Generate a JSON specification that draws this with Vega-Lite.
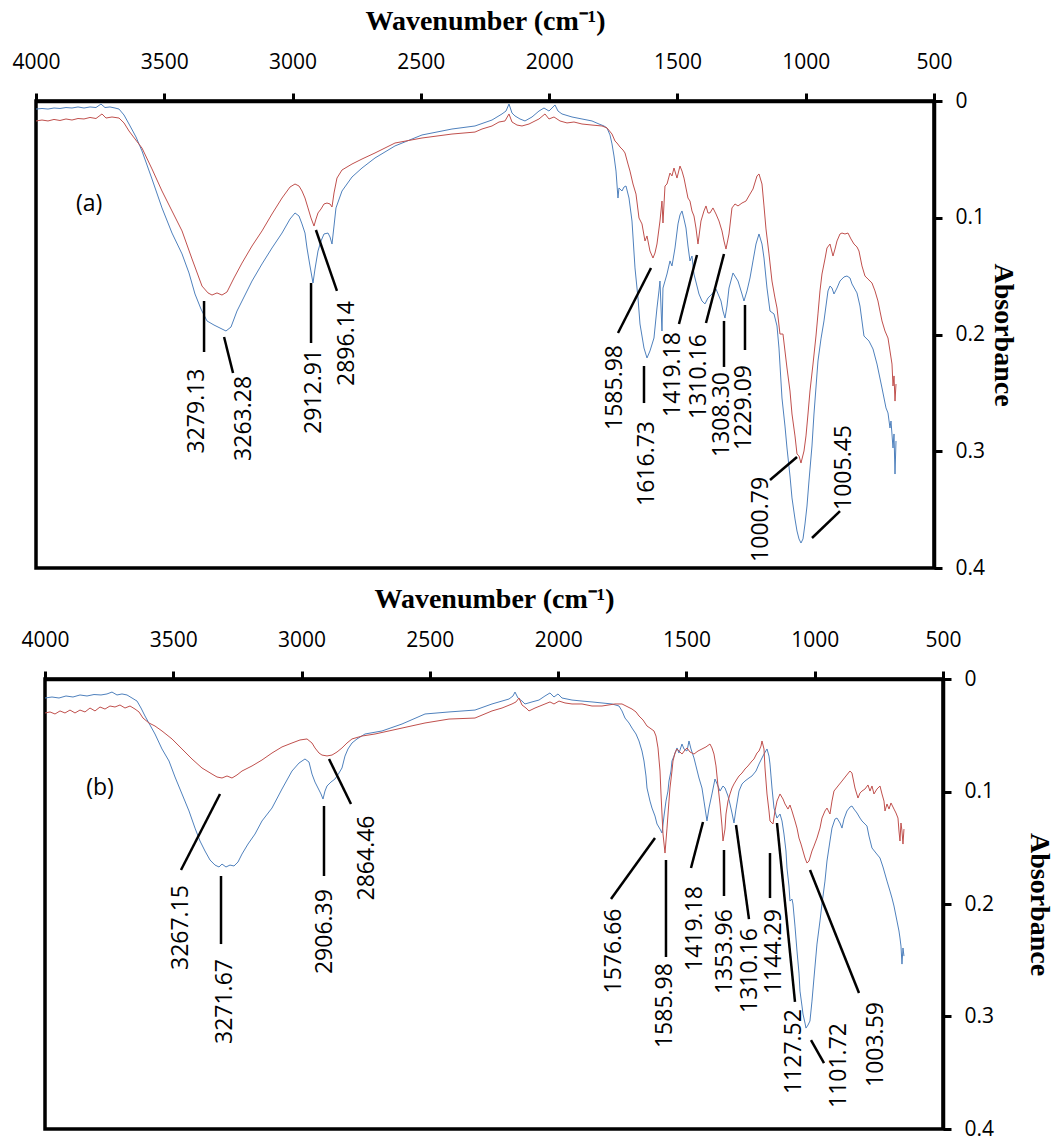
{
 "$schema": "https://vega.github.io/schema/vega-lite/v6.json",
 "background": "white",
 "padding": {"left": 10, "top": 5, "right": 5, "bottom": 5},
 "spacing": 3,
 "config": {
  "view": {"stroke": "black", "strokeWidth": 3.5},
  "axis": {"grid": false, "domainColor": "black", "domainWidth": 3.5, "tickColor": "black", "tickWidth": 3, "tickSize": 8,
   "labelFont": "Open Sans", "labelFontSize": 21, "labelColor": "black", "labelFlush": false,
   "titleFont": "Liberation Serif", "titleFontWeight": "bold", "titleFontSize": 28, "titleColor": "black"}
 },
 "datasets": {
  "aBlue": [{"w":4000,"a":0.0069},{"w":3976.6,"a":0.0064},{"w":3953.2,"a":0.0069},{"w":3929.8,"a":0.006},{"w":3906.5,"a":0.0064},{"w":3883.1,"a":0.0056},{"w":3859.7,"a":0.006},{"w":3836.3,"a":0.0051},{"w":3812.9,"a":0.006},{"w":3789.5,"a":0.0051},{"w":3766.2,"a":0.0056},{"w":3746.7,"a":0.0026},{"w":3731.1,"a":0.0056},{"w":3711.6,"a":0.0051},{"w":3692.1,"a":0.006},{"w":3676.5,"a":0.0069},{"w":3657,"a":0.012},{"w":3637.5,"a":0.0197},{"w":3610.3,"a":0.0308},{"w":3586.9,"a":0.0428},{"w":3547.9,"a":0.0668},{"w":3508.9,"a":0.0916},{"w":3469.9,"a":0.1131},{"w":3430.8,"a":0.131},{"w":3403.7,"a":0.1473},{"w":3380.3,"a":0.1653},{"w":3356.9,"a":0.1782},{"w":3333.5,"a":0.1884},{"w":3306.2,"a":0.1919},{"w":3275.1,"a":0.1953},{"w":3259.5,"a":0.197},{"w":3240,"a":0.1936},{"w":3216.6,"a":0.1799},{"w":3189.3,"a":0.1679},{"w":3158.1,"a":0.1542},{"w":3119.2,"a":0.1396},{"w":3080.2,"a":0.1259},{"w":3041.2,"a":0.1131},{"w":3010,"a":0.1011},{"w":2990.5,"a":0.0959},{"w":2975,"a":0.0985},{"w":2963.3,"a":0.1053},{"w":2951.6,"a":0.1131},{"w":2943.8,"a":0.1259},{"w":2932.1,"a":0.1413},{"w":2920.4,"a":0.1559},{"w":2912.6,"a":0.1439},{"w":2900.9,"a":0.1285},{"w":2889.2,"a":0.1199},{"w":2877.5,"a":0.1139},{"w":2861.9,"a":0.1131},{"w":2854.1,"a":0.1165},{"w":2846.3,"a":0.1225},{"w":2838.5,"a":0.1071},{"w":2830.8,"a":0.0916},{"w":2807.4,"a":0.0771},{"w":2768.4,"a":0.0651},{"w":2729.4,"a":0.0574},{"w":2678.7,"a":0.0488},{"w":2600.8,"a":0.0385},{"w":2495.6,"a":0.0291},{"w":2378.7,"a":0.024},{"w":2289,"a":0.0214},{"w":2222.7,"a":0.0163},{"w":2183.8,"a":0.0111},{"w":2168.2,"a":0.0086},{"w":2156.5,"a":0.0026},{"w":2144.8,"a":0.0103},{"w":2133.1,"a":0.0128},{"w":2113.6,"a":0.0154},{"w":2094.1,"a":0.0171},{"w":2066.8,"a":0.0137},{"w":2039.6,"a":0.0086},{"w":2020.1,"a":0.006},{"w":2000.6,"a":0.0086},{"w":1977.2,"a":0.0034},{"w":1965.5,"a":0.0086},{"w":1949.9,"a":0.0111},{"w":1910.9,"a":0.0137},{"w":1872,"a":0.0154},{"w":1833,"a":0.0171},{"w":1805.7,"a":0.0197},{"w":1786.2,"a":0.0214},{"w":1774.5,"a":0.0231},{"w":1762.8,"a":0.0291},{"w":1755,"a":0.0368},{"w":1747.2,"a":0.0471},{"w":1739.4,"a":0.06},{"w":1731.7,"a":0.0831},{"w":1727.8,"a":0.0745},{"w":1716.1,"a":0.0771},{"w":1708.3,"a":0.0737},{"w":1700.5,"a":0.0728},{"w":1688.8,"a":0.0831},{"w":1677.1,"a":0.1028},{"w":1665.4,"a":0.143},{"w":1653.7,"a":0.1687},{"w":1645.9,"a":0.191},{"w":1638.1,"a":0.2013},{"w":1630.3,"a":0.2116},{"w":1618.6,"a":0.2201},{"w":1607,"a":0.2141},{"w":1591.4,"a":0.203},{"w":1579.7,"a":0.1773},{"w":1571.9,"a":0.1627},{"w":1568,"a":0.1542},{"w":1560.2,"a":0.197},{"w":1556.3,"a":0.1602},{"w":1548.5,"a":0.1542},{"w":1540.7,"a":0.1482},{"w":1529,"a":0.137},{"w":1521.2,"a":0.1413},{"w":1509.5,"a":0.1259},{"w":1497.8,"a":0.1053},{"w":1490,"a":0.0976},{"w":1482.2,"a":0.0942},{"w":1474.4,"a":0.1011},{"w":1466.6,"a":0.1088},{"w":1458.9,"a":0.1242},{"w":1451.1,"a":0.137},{"w":1443.3,"a":0.1328},{"w":1435.5,"a":0.1482},{"w":1416,"a":0.1653},{"w":1404.3,"a":0.1713},{"w":1392.6,"a":0.1738},{"w":1380.9,"a":0.1687},{"w":1365.3,"a":0.1653},{"w":1349.7,"a":0.161},{"w":1330.2,"a":0.1713},{"w":1322.4,"a":0.1799},{"w":1314.6,"a":0.1859},{"w":1306.8,"a":0.1756},{"w":1299,"a":0.1602},{"w":1283.4,"a":0.1473},{"w":1263.9,"a":0.1542},{"w":1248.4,"a":0.1653},{"w":1240.6,"a":0.1713},{"w":1228.9,"a":0.1627},{"w":1217.2,"a":0.1516},{"w":1205.5,"a":0.137},{"w":1193.8,"a":0.1225},{"w":1182.1,"a":0.1139},{"w":1170.4,"a":0.1225},{"w":1162.6,"a":0.1345},{"w":1150.9,"a":0.1602},{"w":1139.2,"a":0.1799},{"w":1123.6,"a":0.1824},{"w":1111.9,"a":0.1927},{"w":1104.2,"a":0.2116},{"w":1092.5,"a":0.2544},{"w":1080.8,"a":0.2784},{"w":1073,"a":0.2972},{"w":1061.3,"a":0.3212},{"w":1053.5,"a":0.34},{"w":1041.8,"a":0.358},{"w":1034,"a":0.3683},{"w":1026.2,"a":0.3751},{"w":1018.4,"a":0.3786},{"w":1010.6,"a":0.3751},{"w":1002.8,"a":0.3623},{"w":995,"a":0.3469},{"w":987.3,"a":0.3255},{"w":975.6,"a":0.2955},{"w":967.8,"a":0.2681},{"w":952.2,"a":0.2227},{"w":940.5,"a":0.2038},{"w":928.8,"a":0.1884},{"w":913.2,"a":0.1627},{"w":905.4,"a":0.1585},{"w":897.6,"a":0.1602},{"w":889.8,"a":0.1653},{"w":878.1,"a":0.1602},{"w":866.4,"a":0.1542},{"w":850.8,"a":0.1507},{"w":839.2,"a":0.1499},{"w":827.5,"a":0.1516},{"w":819.7,"a":0.1567},{"w":800.2,"a":0.1644},{"w":788.5,"a":0.1756},{"w":772.9,"a":0.2013},{"w":753.4,"a":0.2056},{"w":737.8,"a":0.2124},{"w":722.2,"a":0.2253},{"w":702.7,"a":0.2458},{"w":687.1,"a":0.2629},{"w":679.3,"a":0.2672},{"w":671.5,"a":0.2801},{"w":667.6,"a":0.2741},{"w":659.8,"a":0.2972},{"w":655.9,"a":0.2852},{"w":652,"a":0.3195},{"w":648.1,"a":0.2912}],
  "aRed": [{"w":4000,"a":0.0171},{"w":3976.6,"a":0.0163},{"w":3953.2,"a":0.0171},{"w":3929.8,"a":0.0158},{"w":3906.5,"a":0.0167},{"w":3883.1,"a":0.0154},{"w":3859.7,"a":0.0163},{"w":3836.3,"a":0.015},{"w":3812.9,"a":0.0154},{"w":3789.5,"a":0.0141},{"w":3766.2,"a":0.015},{"w":3742.8,"a":0.0111},{"w":3727.2,"a":0.0146},{"w":3703.8,"a":0.0137},{"w":3676.5,"a":0.0146},{"w":3657,"a":0.0188},{"w":3637.5,"a":0.0257},{"w":3614.1,"a":0.0325},{"w":3586.9,"a":0.0403},{"w":3547.9,"a":0.0582},{"w":3508.9,"a":0.0771},{"w":3469.9,"a":0.0942},{"w":3430.8,"a":0.1113},{"w":3391.9,"a":0.1353},{"w":3353,"a":0.1585},{"w":3329.6,"a":0.1644},{"w":3314,"a":0.1662},{"w":3294.5,"a":0.1644},{"w":3275.1,"a":0.1662},{"w":3255.6,"a":0.1636},{"w":3228.3,"a":0.1516},{"w":3197.1,"a":0.1388},{"w":3158.1,"a":0.1242},{"w":3119.2,"a":0.1113},{"w":3080.2,"a":0.0968},{"w":3041.2,"a":0.0831},{"w":3010,"a":0.0737},{"w":2990.5,"a":0.0711},{"w":2975,"a":0.0728},{"w":2963.3,"a":0.0771},{"w":2951.6,"a":0.0831},{"w":2939.9,"a":0.0916},{"w":2928.2,"a":0.1002},{"w":2916.5,"a":0.1071},{"w":2908.7,"a":0.1011},{"w":2900.9,"a":0.0959},{"w":2889.2,"a":0.0925},{"w":2877.5,"a":0.0882},{"w":2865.8,"a":0.0874},{"w":2854.1,"a":0.0882},{"w":2846.3,"a":0.0908},{"w":2838.5,"a":0.0788},{"w":2826.9,"a":0.066},{"w":2807.4,"a":0.0591},{"w":2768.4,"a":0.054},{"w":2729.4,"a":0.0497},{"w":2678.7,"a":0.0445},{"w":2600.8,"a":0.036},{"w":2495.6,"a":0.0317},{"w":2378.7,"a":0.0283},{"w":2289,"a":0.0266},{"w":2261.7,"a":0.024},{"w":2222.7,"a":0.0214},{"w":2195.4,"a":0.018},{"w":2172,"a":0.0171},{"w":2156.5,"a":0.0111},{"w":2144.8,"a":0.018},{"w":2125.3,"a":0.0206},{"w":2105.8,"a":0.0214},{"w":2078.5,"a":0.0197},{"w":2055.1,"a":0.0171},{"w":2039.6,"a":0.0154},{"w":2016.2,"a":0.0111},{"w":2000.6,"a":0.0154},{"w":1981.1,"a":0.0137},{"w":1957.7,"a":0.0171},{"w":1930.4,"a":0.0188},{"w":1903.2,"a":0.018},{"w":1872,"a":0.0197},{"w":1833,"a":0.0206},{"w":1794,"a":0.0214},{"w":1774.5,"a":0.0231},{"w":1755,"a":0.0283},{"w":1743.3,"a":0.0343},{"w":1735.5,"a":0.036},{"w":1723.8,"a":0.0394},{"w":1712.1,"a":0.042},{"w":1704.4,"a":0.0445},{"w":1692.7,"a":0.054},{"w":1684.9,"a":0.06},{"w":1673.2,"a":0.0711},{"w":1661.5,"a":0.0797},{"w":1649.8,"a":0.1002},{"w":1638.1,"a":0.1053},{"w":1626.4,"a":0.1199},{"w":1618.6,"a":0.1156},{"w":1607,"a":0.1285},{"w":1595.3,"a":0.1345},{"w":1587.5,"a":0.1302},{"w":1579.7,"a":0.1225},{"w":1568,"a":0.1028},{"w":1560.2,"a":0.0857},{"w":1556.3,"a":0.1045},{"w":1548.5,"a":0.0728},{"w":1540.7,"a":0.0711},{"w":1529,"a":0.0617},{"w":1521.2,"a":0.0642},{"w":1513.4,"a":0.0574},{"w":1501.7,"a":0.066},{"w":1490,"a":0.0557},{"w":1482.2,"a":0.06},{"w":1474.4,"a":0.066},{"w":1458.9,"a":0.0831},{"w":1451.1,"a":0.0857},{"w":1443.3,"a":0.0942},{"w":1435.5,"a":0.0985},{"w":1427.7,"a":0.1088},{"w":1419.9,"a":0.1225},{"w":1408.2,"a":0.1028},{"w":1396.5,"a":0.0942},{"w":1388.7,"a":0.0899},{"w":1380.9,"a":0.0959},{"w":1373.2,"a":0.0959},{"w":1361.5,"a":0.0916},{"w":1349.7,"a":0.0968},{"w":1338,"a":0.1028},{"w":1326.3,"a":0.1113},{"w":1318.5,"a":0.1199},{"w":1310.7,"a":0.1268},{"w":1299,"a":0.1139},{"w":1287.4,"a":0.0916},{"w":1275.7,"a":0.0882},{"w":1263.9,"a":0.0899},{"w":1248.4,"a":0.0874},{"w":1232.8,"a":0.0857},{"w":1217.2,"a":0.0797},{"w":1205.5,"a":0.0754},{"w":1189.9,"a":0.0642},{"w":1182.1,"a":0.0625},{"w":1170.4,"a":0.0711},{"w":1162.6,"a":0.0899},{"w":1154.8,"a":0.1096},{"w":1143.1,"a":0.131},{"w":1131.5,"a":0.1542},{"w":1119.8,"a":0.1687},{"w":1111.9,"a":0.1773},{"w":1100.3,"a":0.1996},{"w":1088.6,"a":0.1996},{"w":1073,"a":0.2287},{"w":1061.3,"a":0.2484},{"w":1053.5,"a":0.2681},{"w":1041.8,"a":0.2869},{"w":1034,"a":0.3023},{"w":1026.2,"a":0.304},{"w":1018.4,"a":0.3101},{"w":1006.7,"a":0.2998},{"w":998.9,"a":0.2869},{"w":991.1,"a":0.2681},{"w":983.4,"a":0.2484},{"w":971.6,"a":0.2253},{"w":960,"a":0.2013},{"w":952.2,"a":0.1824},{"w":944.4,"a":0.1627},{"w":936.6,"a":0.1482},{"w":924.9,"a":0.1353},{"w":917.1,"a":0.1259},{"w":905.4,"a":0.1225},{"w":893.7,"a":0.1328},{"w":885.9,"a":0.1268},{"w":878.1,"a":0.1199},{"w":866.4,"a":0.1139},{"w":858.6,"a":0.1131},{"w":846.9,"a":0.1139},{"w":835.3,"a":0.1131},{"w":823.6,"a":0.1182},{"w":811.9,"a":0.1225},{"w":800.2,"a":0.125},{"w":792.4,"a":0.1285},{"w":780.7,"a":0.1413},{"w":769,"a":0.1499},{"w":757.3,"a":0.1525},{"w":741.7,"a":0.1559},{"w":730,"a":0.1627},{"w":718.4,"a":0.1713},{"w":710.6,"a":0.1799},{"w":702.7,"a":0.1884},{"w":691.1,"a":0.197},{"w":679.3,"a":0.203},{"w":671.5,"a":0.2141},{"w":663.7,"a":0.2253},{"w":659.8,"a":0.2441},{"w":655.9,"a":0.2355},{"w":652,"a":0.257},{"w":648.1,"a":0.2424}],
  "bBlue": [{"w":4000,"a":0.0169},{"w":3972.7,"a":0.016},{"w":3945.4,"a":0.0169},{"w":3918.2,"a":0.0151},{"w":3890.9,"a":0.016},{"w":3863.6,"a":0.0142},{"w":3836.3,"a":0.0151},{"w":3809,"a":0.0138},{"w":3781.7,"a":0.0142},{"w":3758.4,"a":0.0133},{"w":3738.9,"a":0.0116},{"w":3719.4,"a":0.0142},{"w":3699.9,"a":0.0133},{"w":3680.4,"a":0.0142},{"w":3660.9,"a":0.0169},{"w":3641.4,"a":0.0196},{"w":3625.8,"a":0.0258},{"w":3610.3,"a":0.0329},{"w":3590.8,"a":0.0409},{"w":3571.3,"a":0.0489},{"w":3544,"a":0.0622},{"w":3516.7,"a":0.0729},{"w":3493.3,"a":0.0871},{"w":3466,"a":0.1022},{"w":3438.8,"a":0.1173},{"w":3415.4,"a":0.1325},{"w":3395.9,"a":0.144},{"w":3376.4,"a":0.1529},{"w":3356.9,"a":0.1609},{"w":3337.4,"a":0.1654},{"w":3321.8,"a":0.1671},{"w":3310.1,"a":0.1645},{"w":3294.6,"a":0.1671},{"w":3279,"a":0.1654},{"w":3263.4,"a":0.1662},{"w":3247.8,"a":0.1627},{"w":3232.2,"a":0.1556},{"w":3208.8,"a":0.1467},{"w":3181.5,"a":0.1378},{"w":3154.3,"a":0.1262},{"w":3115.3,"a":0.1147},{"w":3076.3,"a":0.0978},{"w":3037.4,"a":0.0818},{"w":3010,"a":0.0747},{"w":2986.7,"a":0.0711},{"w":2971.1,"a":0.0738},{"w":2959.4,"a":0.0845},{"w":2947.7,"a":0.0916},{"w":2936,"a":0.0969},{"w":2924.3,"a":0.1022},{"w":2916.5,"a":0.1067},{"w":2908.7,"a":0.0996},{"w":2900.9,"a":0.0951},{"w":2885.4,"a":0.0916},{"w":2869.8,"a":0.0889},{"w":2854.2,"a":0.0836},{"w":2842.5,"a":0.0791},{"w":2830.8,"a":0.0685},{"w":2819.1,"a":0.0622},{"w":2803.5,"a":0.0569},{"w":2784,"a":0.0533},{"w":2752.8,"a":0.0489},{"w":2686.5,"a":0.0462},{"w":2608.6,"a":0.04},{"w":2518.9,"a":0.0311},{"w":2425.4,"a":0.0293},{"w":2324.1,"a":0.0276},{"w":2257.8,"a":0.0222},{"w":2218.8,"a":0.0196},{"w":2191.6,"a":0.0178},{"w":2176,"a":0.0151},{"w":2168.2,"a":0.0116},{"w":2156.5,"a":0.0169},{"w":2140.9,"a":0.0196},{"w":2129.2,"a":0.0222},{"w":2101.9,"a":0.0204},{"w":2074.7,"a":0.0187},{"w":2051.3,"a":0.0151},{"w":2031.8,"a":0.0124},{"w":2016.2,"a":0.016},{"w":2000.6,"a":0.0133},{"w":1985,"a":0.0169},{"w":1946,"a":0.0187},{"w":1907,"a":0.0196},{"w":1868.1,"a":0.0204},{"w":1829.1,"a":0.0213},{"w":1790.1,"a":0.0222},{"w":1762.8,"a":0.024},{"w":1751.1,"a":0.0284},{"w":1739.4,"a":0.0347},{"w":1723.8,"a":0.0391},{"w":1712.1,"a":0.0436},{"w":1696.5,"a":0.0489},{"w":1684.9,"a":0.0551},{"w":1673.2,"a":0.064},{"w":1665.4,"a":0.0729},{"w":1657.6,"a":0.0862},{"w":1653.7,"a":0.0969},{"w":1642,"a":0.1085},{"w":1634.2,"a":0.1147},{"w":1622.5,"a":0.1218},{"w":1614.7,"a":0.1289},{"w":1603,"a":0.1334},{"w":1595.2,"a":0.1369},{"w":1587.4,"a":0.1218},{"w":1579.7,"a":0.1085},{"w":1571.9,"a":0.0996},{"w":1568,"a":0.0907},{"w":1560.2,"a":0.0818},{"w":1556.3,"a":0.0729},{"w":1548.5,"a":0.0685},{"w":1536.8,"a":0.0613},{"w":1529,"a":0.0658},{"w":1517.3,"a":0.0578},{"w":1509.5,"a":0.0622},{"w":1497.8,"a":0.064},{"w":1490,"a":0.0551},{"w":1482.2,"a":0.0622},{"w":1470.5,"a":0.0702},{"w":1462.8,"a":0.0773},{"w":1451.1,"a":0.088},{"w":1439.4,"a":0.0969},{"w":1431.6,"a":0.1085},{"w":1419.9,"a":0.1262},{"w":1412.1,"a":0.1147},{"w":1400.4,"a":0.1022},{"w":1388.7,"a":0.0889},{"w":1377,"a":0.0951},{"w":1369.2,"a":0.0996},{"w":1357.5,"a":0.0951},{"w":1349.7,"a":0.0969},{"w":1338,"a":0.104},{"w":1330.2,"a":0.1111},{"w":1322.4,"a":0.1191},{"w":1314.6,"a":0.128},{"w":1306.8,"a":0.1156},{"w":1295.1,"a":0.0996},{"w":1283.4,"a":0.0933},{"w":1271.8,"a":0.0907},{"w":1256.2,"a":0.088},{"w":1244.5,"a":0.0862},{"w":1228.9,"a":0.0818},{"w":1217.2,"a":0.0756},{"w":1205.5,"a":0.0702},{"w":1197.7,"a":0.0667},{"w":1186,"a":0.0622},{"w":1178.2,"a":0.0685},{"w":1174.3,"a":0.0756},{"w":1170.4,"a":0.0862},{"w":1166.5,"a":0.0969},{"w":1158.7,"a":0.1147},{"w":1147,"a":0.1236},{"w":1135.3,"a":0.12},{"w":1127.5,"a":0.1262},{"w":1119.8,"a":0.1378},{"w":1112,"a":0.1529},{"w":1108.1,"a":0.168},{"w":1100.3,"a":0.184},{"w":1096.4,"a":0.1974},{"w":1088.6,"a":0.1956},{"w":1084.7,"a":0.2},{"w":1076.9,"a":0.2196},{"w":1069.1,"a":0.2418},{"w":1061.3,"a":0.2614},{"w":1057.4,"a":0.2774},{"w":1049.6,"a":0.2907},{"w":1045.7,"a":0.2978},{"w":1037.9,"a":0.3058},{"w":1034,"a":0.3103},{"w":1026.2,"a":0.3076},{"w":1018.5,"a":0.304},{"w":1010.7,"a":0.2863},{"w":1002.9,"a":0.2658},{"w":991.2,"a":0.2356},{"w":979.5,"a":0.2151},{"w":971.7,"a":0.2},{"w":960,"a":0.1796},{"w":952.2,"a":0.1618},{"w":940.5,"a":0.144},{"w":932.7,"a":0.1325},{"w":921,"a":0.1245},{"w":913.2,"a":0.1236},{"w":901.5,"a":0.128},{"w":893.7,"a":0.1325},{"w":886,"a":0.1245},{"w":874.3,"a":0.1173},{"w":862.6,"a":0.1138},{"w":854.8,"a":0.1129},{"w":847,"a":0.1156},{"w":835.3,"a":0.1191},{"w":823.6,"a":0.1236},{"w":815.8,"a":0.1262},{"w":804.1,"a":0.1289},{"w":796.3,"a":0.1307},{"w":788.5,"a":0.1396},{"w":776.8,"a":0.1502},{"w":761.2,"a":0.1547},{"w":745.6,"a":0.1591},{"w":733.9,"a":0.1671},{"w":718.3,"a":0.1796},{"w":706.6,"a":0.1885},{"w":698.8,"a":0.1947},{"w":691,"a":0.2018},{"w":679.4,"a":0.2151},{"w":671.6,"a":0.224},{"w":667.7,"a":0.2302},{"w":663.8,"a":0.2374},{"w":659.9,"a":0.2534},{"w":656,"a":0.2391},{"w":652.1,"a":0.2463}],
  "bRed": [{"w":4000,"a":0.0302},{"w":3980.5,"a":0.0293},{"w":3961,"a":0.0311},{"w":3941.5,"a":0.0284},{"w":3922.1,"a":0.0302},{"w":3902.6,"a":0.0276},{"w":3883.1,"a":0.0302},{"w":3863.6,"a":0.0276},{"w":3844.1,"a":0.0293},{"w":3824.6,"a":0.0258},{"w":3805.1,"a":0.0284},{"w":3785.6,"a":0.0249},{"w":3766.2,"a":0.0267},{"w":3746.7,"a":0.024},{"w":3727.2,"a":0.0249},{"w":3707.7,"a":0.0231},{"w":3688.2,"a":0.0258},{"w":3668.7,"a":0.024},{"w":3649.2,"a":0.0267},{"w":3633.6,"a":0.0293},{"w":3618.1,"a":0.0347},{"w":3594.7,"a":0.0391},{"w":3571.3,"a":0.0418},{"w":3544,"a":0.0462},{"w":3505,"a":0.0533},{"w":3466,"a":0.0622},{"w":3427.1,"a":0.0711},{"w":3388.1,"a":0.0791},{"w":3349.1,"a":0.0845},{"w":3329.6,"a":0.0871},{"w":3310.1,"a":0.088},{"w":3290.6,"a":0.0862},{"w":3271.2,"a":0.088},{"w":3251.7,"a":0.0853},{"w":3232.2,"a":0.0818},{"w":3193.2,"a":0.0773},{"w":3154.3,"a":0.072},{"w":3115.3,"a":0.0658},{"w":3076.3,"a":0.0604},{"w":3037.4,"a":0.0569},{"w":3006.1,"a":0.0542},{"w":2978.9,"a":0.0533},{"w":2959.4,"a":0.0569},{"w":2947.7,"a":0.0613},{"w":2932.1,"a":0.0658},{"w":2920.4,"a":0.0676},{"w":2900.9,"a":0.0684},{"w":2881.4,"a":0.0676},{"w":2861.9,"a":0.0649},{"w":2842.5,"a":0.0613},{"w":2823,"a":0.0569},{"w":2803.5,"a":0.0533},{"w":2764.5,"a":0.0507},{"w":2713.8,"a":0.0489},{"w":2608.6,"a":0.0436},{"w":2518.9,"a":0.0391},{"w":2425.4,"a":0.0356},{"w":2324.1,"a":0.0347},{"w":2257.8,"a":0.0284},{"w":2218.8,"a":0.0258},{"w":2179.9,"a":0.0222},{"w":2164.3,"a":0.0204},{"w":2152.6,"a":0.0169},{"w":2140.9,"a":0.0231},{"w":2125.3,"a":0.0258},{"w":2113.6,"a":0.0284},{"w":2090.2,"a":0.0258},{"w":2070.8,"a":0.024},{"w":2051.3,"a":0.0222},{"w":2031.8,"a":0.0204},{"w":2016.2,"a":0.0222},{"w":1996.7,"a":0.0196},{"w":1973.3,"a":0.0213},{"w":1946,"a":0.0222},{"w":1907,"a":0.0222},{"w":1868.1,"a":0.024},{"w":1829.1,"a":0.024},{"w":1778.4,"a":0.0222},{"w":1751.1,"a":0.0222},{"w":1712.1,"a":0.0267},{"w":1696.5,"a":0.0293},{"w":1684.9,"a":0.0329},{"w":1669.3,"a":0.0364},{"w":1653.7,"a":0.0418},{"w":1642,"a":0.0436},{"w":1626.4,"a":0.0462},{"w":1618.6,"a":0.0507},{"w":1610.8,"a":0.0613},{"w":1603,"a":0.0818},{"w":1599.1,"a":0.1022},{"w":1591.3,"a":0.1378},{"w":1583.5,"a":0.1547},{"w":1575.7,"a":0.1325},{"w":1568,"a":0.1085},{"w":1564.1,"a":0.0969},{"w":1556.3,"a":0.0818},{"w":1552.4,"a":0.0729},{"w":1544.6,"a":0.0658},{"w":1536.8,"a":0.0622},{"w":1525.1,"a":0.0649},{"w":1517.3,"a":0.0667},{"w":1505.6,"a":0.0631},{"w":1497.8,"a":0.0613},{"w":1486.1,"a":0.0649},{"w":1470.5,"a":0.0667},{"w":1454.9,"a":0.064},{"w":1439.4,"a":0.0622},{"w":1423.8,"a":0.0604},{"w":1408.2,"a":0.0578},{"w":1400.4,"a":0.0613},{"w":1392.6,"a":0.0667},{"w":1384.8,"a":0.0773},{"w":1377,"a":0.0951},{"w":1369.2,"a":0.1111},{"w":1361.4,"a":0.1307},{"w":1357.5,"a":0.144},{"w":1349.7,"a":0.1334},{"w":1345.8,"a":0.12},{"w":1338,"a":0.1085},{"w":1330.2,"a":0.1022},{"w":1322.4,"a":0.0969},{"w":1314.6,"a":0.0933},{"w":1302.9,"a":0.0889},{"w":1295.1,"a":0.0862},{"w":1283.4,"a":0.0836},{"w":1271.8,"a":0.08},{"w":1260.1,"a":0.0773},{"w":1244.5,"a":0.0729},{"w":1236.7,"a":0.0711},{"w":1225,"a":0.0658},{"w":1217.2,"a":0.064},{"w":1209.4,"a":0.0596},{"w":1205.5,"a":0.0551},{"w":1197.7,"a":0.0622},{"w":1193.8,"a":0.0791},{"w":1186,"a":0.1022},{"w":1178.2,"a":0.1173},{"w":1174.3,"a":0.1262},{"w":1162.6,"a":0.1289},{"w":1154.8,"a":0.1173},{"w":1147,"a":0.1085},{"w":1135.3,"a":0.1022},{"w":1123.6,"a":0.1067},{"w":1115.8,"a":0.1111},{"w":1104.1,"a":0.1156},{"w":1096.4,"a":0.112},{"w":1088.6,"a":0.1173},{"w":1076.9,"a":0.1262},{"w":1069.1,"a":0.1325},{"w":1061.3,"a":0.1414},{"w":1053.5,"a":0.1467},{"w":1045.7,"a":0.1529},{"w":1037.9,"a":0.1591},{"w":1030.1,"a":0.1636},{"w":1022.3,"a":0.1618},{"w":1010.7,"a":0.1529},{"w":1002.9,"a":0.1485},{"w":991.2,"a":0.1414},{"w":979.5,"a":0.1325},{"w":971.7,"a":0.1236},{"w":960,"a":0.1173},{"w":952.2,"a":0.1147},{"w":940.5,"a":0.12},{"w":932.7,"a":0.1085},{"w":924.9,"a":0.0996},{"w":909.3,"a":0.0951},{"w":893.7,"a":0.0907},{"w":878.1,"a":0.0862},{"w":862.6,"a":0.0818},{"w":854.8,"a":0.0836},{"w":843.1,"a":0.0969},{"w":831.4,"a":0.1058},{"w":823.6,"a":0.1014},{"w":815.8,"a":0.0996},{"w":804.1,"a":0.0978},{"w":792.4,"a":0.0942},{"w":784.6,"a":0.0996},{"w":776.8,"a":0.0951},{"w":769,"a":0.1022},{"w":757.3,"a":0.0978},{"w":745.6,"a":0.0951},{"w":737.8,"a":0.1022},{"w":730,"a":0.1085},{"w":726.1,"a":0.1173},{"w":718.3,"a":0.1111},{"w":710.5,"a":0.1156},{"w":702.7,"a":0.1102},{"w":691,"a":0.1156},{"w":683.3,"a":0.1191},{"w":675.5,"a":0.1236},{"w":671.6,"a":0.1351},{"w":667.7,"a":0.144},{"w":663.8,"a":0.128},{"w":659.9,"a":0.1351},{"w":656,"a":0.1467},{"w":652.1,"a":0.1334}],
  "leadA": [{"w1":3345,"a1":0.1713,"w2":3345,"a2":0.215},{"w1":3267,"a1":0.2021,"w2":3232,"a2":0.233},{"w1":2928,"a1":0.1559,"w2":2928,"a2":0.2073},{"w1":2909,"a1":0.1105,"w2":2827,"a2":0.1627},{"w1":1731.7,"a1":0.1987,"w2":1603,"a2":0.143},{"w1":1630.3,"a1":0.227,"w2":1630.3,"a2":0.2587},{"w1":1494,"a1":0.191,"w2":1423.8,"a2":0.1319},{"w1":1388.7,"a1":0.1901,"w2":1318.5,"a2":0.131},{"w1":1318.5,"a1":0.1884,"w2":1318.5,"a2":0.2278},{"w1":1236.7,"a1":0.1747,"w2":1236.7,"a2":0.2133},{"w1":1139.2,"a1":0.3246,"w2":1034,"a2":0.3049},{"w1":975.5,"a1":0.3743,"w2":866.4,"a2":0.3512}],
  "labA": [{"w":3372.5,"a":0.2655,"t":"3279.13"},{"w":3189,"a":0.2719,"t":"3263.28"},{"w":2916.5,"a":0.2488,"t":"2912.91"},{"w":2788,"a":0.2077,"t":"2896.14"},{"w":1743.3,"a":0.2454,"t":"1585.98"},{"w":1618.6,"a":0.3105,"t":"1616.73"},{"w":1517.3,"a":0.2343,"t":"1419.18"},{"w":1416,"a":0.236,"t":"1310.16"},{"w":1326.3,"a":0.2685,"t":"1308.30"},{"w":1240.6,"a":0.2625,"t":"1229.09"},{"w":1174.3,"a":0.3584,"t":"1000.79"},{"w":850.8,"a":0.3139,"t":"1005.45"}],
  "leadB": [{"w1":3470,"a1":0.1698,"w2":3317.9,"a2":0.1022},{"w1":3314,"a1":0.1751,"w2":3314,"a2":0.2356},{"w1":2912.6,"a1":0.1129,"w2":2912.6,"a2":0.1751},{"w1":2893.1,"a1":0.0711,"w2":2807.4,"a2":0.1111},{"w1":1794,"a1":0.1956,"w2":1622.5,"a2":0.1414},{"w1":1579.7,"a1":0.1609,"w2":1579.7,"a2":0.2471},{"w1":1482.2,"a1":0.168,"w2":1435.4,"a2":0.1271},{"w1":1353.6,"a1":0.152,"w2":1353.6,"a2":0.1929},{"w1":1306.8,"a1":0.1298,"w2":1256.2,"a2":0.2134},{"w1":1174.3,"a1":0.1547,"w2":1174.3,"a2":0.1947},{"w1":1147,"a1":0.128,"w2":1076.9,"a2":0.2871},{"w1":1014.5,"a1":0.3209,"w2":963.8,"a2":0.3414},{"w1":1018.4,"a1":0.1698,"w2":827.4,"a2":0.2791}],
  "labB": [{"w":3470,"a":0.2209,"t":"3267.15"},{"w":3298.4,"a":0.2867,"t":"3271.67"},{"w":2908.7,"a":0.2245,"t":"2906.39"},{"w":2745,"a":0.1591,"t":"2864.46"},{"w":1782.3,"a":0.2418,"t":"1576.66"},{"w":1583.5,"a":0.2903,"t":"1585.98"},{"w":1466.6,"a":0.2218,"t":"1419.18"},{"w":1349.7,"a":0.2423,"t":"1353.96"},{"w":1252.3,"a":0.2591,"t":"1310.16"},{"w":1158.7,"a":0.2423,"t":"1144.29"},{"w":1080.8,"a":0.3312,"t":"1127.52"},{"w":905.4,"a":0.3436,"t":"1101.72"},{"w":761.2,"a":0.3249,"t":"1003.59"}]
 },
 "vconcat": [
  {
   "width": 898, "height": 467,
   "layer": [
    {"data": {"name": "aBlue"}, "mark": {"type": "line", "strokeWidth": 1, "color": "#4F81BD"},
     "encoding": {
      "x": {"field": "w", "type": "quantitative", "scale": {"domain": [500, 4000], "reverse": true, "nice": false, "zero": false},
       "axis": {"orient": "top", "values": [4000, 3500, 3000, 2500, 2000, 1500, 1000, 500], "format": "d", "title": "Wavenumber (cm⁻¹)", "labelPadding": 21, "titlePadding": 16}},
      "y": {"field": "a", "type": "quantitative", "scale": {"domain": [0, 0.4], "reverse": true, "nice": false, "zero": false},
       "axis": {"orient": "right", "values": [0, 0.1, 0.2, 0.3, 0.4], "format": ".1~f", "title": "Absorbance", "labelPadding": 13, "titlePadding": 4}}
     }},
    {"data": {"name": "aRed"}, "mark": {"type": "line", "strokeWidth": 1, "color": "#C0504D"},
     "encoding": {
      "x": {"field": "w", "type": "quantitative"},
      "y": {"field": "a", "type": "quantitative"}
     }},
    {"data": {"name": "leadA"}, "mark": {"type": "rule", "strokeWidth": 2.5, "color": "black"},
     "encoding": {
      "x": {"field": "w1", "type": "quantitative"},
      "x2": {"field": "w2"},
      "y": {"field": "a1", "type": "quantitative"},
      "y2": {"field": "a2"}
     }},
    {"data": {"name": "labA"}, "mark": {"type": "text", "angle": 270, "fontSize": 23, "font": "Open Sans", "align": "center", "baseline": "middle", "color": "black"},
     "encoding": {
      "x": {"field": "w", "type": "quantitative"},
      "y": {"field": "a", "type": "quantitative"},
      "text": {"field": "t"}
     }},
    {"data": {"values": [{"w": 3793, "a": 0.0882, "t": "(a)"}]}, "mark": {"type": "text", "fontSize": 23, "font": "Open Sans", "align": "center", "baseline": "middle", "color": "black"},
     "encoding": {
      "x": {"field": "w", "type": "quantitative"},
      "y": {"field": "a", "type": "quantitative"},
      "text": {"field": "t"}
     }}
   ]
  },
  {
   "bounds": "flush",
   "spacing": 8,
   "hconcat": [
    {"width": 1, "height": 450, "view": {"stroke": null}, "data": {"values": [{"w": 0}]}, "mark": {"type": "tick", "opacity": 0}, "encoding": {}},
    {
     "width": 898, "height": 450,
     "layer": [
      {"data": {"name": "bBlue"}, "mark": {"type": "line", "strokeWidth": 1, "color": "#4F81BD"},
       "encoding": {
        "x": {"field": "w", "type": "quantitative", "scale": {"domain": [500, 4000], "reverse": true, "nice": false, "zero": false},
         "axis": {"orient": "top", "values": [4000, 3500, 3000, 2500, 2000, 1500, 1000, 500], "format": "d", "title": "Wavenumber (cm⁻¹)", "labelPadding": 21, "titlePadding": 16}},
        "y": {"field": "a", "type": "quantitative", "scale": {"domain": [0, 0.4], "reverse": true, "nice": false, "zero": false},
         "axis": {"orient": "right", "values": [0, 0.1, 0.2, 0.3, 0.4], "format": ".1~f", "title": "Absorbance", "labelPadding": 13, "titlePadding": 31}}
       }},
      {"data": {"name": "bRed"}, "mark": {"type": "line", "strokeWidth": 1, "color": "#C0504D"},
       "encoding": {
        "x": {"field": "w", "type": "quantitative"},
        "y": {"field": "a", "type": "quantitative"}
       }},
      {"data": {"name": "leadB"}, "mark": {"type": "rule", "strokeWidth": 2.5, "color": "black"},
       "encoding": {
        "x": {"field": "w1", "type": "quantitative"},
        "x2": {"field": "w2"},
        "y": {"field": "a1", "type": "quantitative"},
        "y2": {"field": "a2"}
       }},
      {"data": {"name": "labB"}, "mark": {"type": "text", "angle": 270, "fontSize": 23, "font": "Open Sans", "align": "center", "baseline": "middle", "color": "black"},
       "encoding": {
        "x": {"field": "w", "type": "quantitative"},
        "y": {"field": "a", "type": "quantitative"},
        "text": {"field": "t"}
       }},
      {"data": {"values": [{"w": 3785.6, "a": 0.0969, "t": "(b)"}]}, "mark": {"type": "text", "fontSize": 23, "font": "Open Sans", "align": "center", "baseline": "middle", "color": "black"},
       "encoding": {
        "x": {"field": "w", "type": "quantitative"},
        "y": {"field": "a", "type": "quantitative"},
        "text": {"field": "t"}
       }}
     ]
    }
   ]
  }
 ]
}
